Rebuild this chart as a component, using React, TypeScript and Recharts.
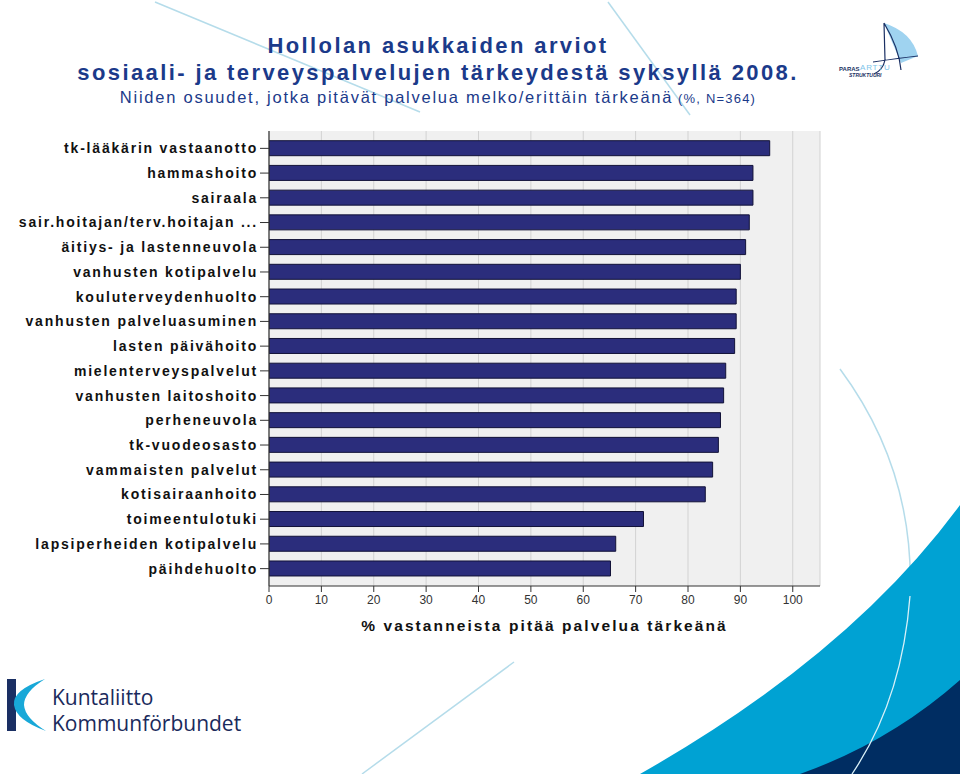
import React from "react";
import {
  BarChart,
  Bar,
  XAxis,
  YAxis,
  CartesianGrid,
  Label,
} from "recharts";

const categories = [
  "tk-lääkärin vastaanotto",
  "hammashoito",
  "sairaala",
  "sair.hoitajan/terv.hoitajan ...",
  "äitiys- ja lastenneuvola",
  "vanhusten kotipalvelu",
  "kouluterveydenhuolto",
  "vanhusten palveluasuminen",
  "lasten päivähoito",
  "mielenterveyspalvelut",
  "vanhusten laitoshoito",
  "perheneuvola",
  "tk-vuodeosasto",
  "vammaisten palvelut",
  "kotisairaanhoito",
  "toimeentulotuki",
  "lapsiperheiden kotipalvelu",
  "päihdehuolto",
];

const values = [
  95.6, 92.4, 92.4, 91.7, 91.0, 90.0, 89.2, 89.2, 88.9, 87.2, 86.8, 86.2,
  85.8, 84.7, 83.3, 71.5, 66.2, 65.2,
];

const xTicks = [0, 10, 20, 30, 40, 50, 60, 70, 80, 90, 100];

const titleLine1 = "Hollolan asukkaiden arviot";
const titleLine2 = "sosiaali- ja terveyspalvelujen tärkeydestä syksyllä 2008.";
const subtitleMain = "Niiden osuudet, jotka pitävät palvelua melko/erittäin tärkeänä";
const subtitleSmall = " (%, N=364)";
const xAxisTitle = "% vastanneista pitää palvelua tärkeänä";

const data = categories.map((name, i) => ({ name, value: values[i] }));

const FONT = "'Liberation Sans', Arial, sans-serif";

function Decorations() {
  return (
    <svg
      width={960}
      height={774}
      style={{ position: "absolute", left: 0, top: 0 }}
    >
      {/* light lines at top */}
      <line x1={155} y1={2} x2={420} y2={112} stroke="#b5dcea" strokeWidth={1.5} />
      <line x1={608} y1={2} x2={690} y2={115} stroke="#b5dcea" strokeWidth={1.5} />
      {/* right side curve */}
      <path d="M840,369 Q915,470 910,596" fill="none" stroke="#b5dcea" strokeWidth={1.5} />
      {/* bottom centre line */}
      <line x1={514} y1={662} x2={362} y2={774} stroke="#b5dcea" strokeWidth={1.5} />
      {/* bottom right shapes */}
      <path d="M640,774 Q850,655 960,505 L960,774 Z" fill="#00a2d3" />
      <path d="M800,774 Q890,742 960,680 L960,774 Z" fill="#002d62" />
      <path d="M910,596 Q902,700 852,774" fill="none" stroke="#d8f0f8" strokeWidth={1.3} />
      {/* Kuntaliitto logo */}
      <rect x={7} y={679} width={9} height={52} fill="#1a2f63" />
      <path
        d="M45,679 Q12,690 14,705 Q16,720 46,731 Q25,718 24,705 Q24,692 45,679 Z"
        fill="#18a8d8"
      />
      <text x={52} y={705} fontFamily="'Open Sans', sans-serif" fontSize={21} fill="#1a2a5c" letterSpacing={0}>
        Kuntaliitto
      </text>
      <text x={52} y={731} fontFamily="'Open Sans', sans-serif" fontSize={21} fill="#1a2a5c" letterSpacing={0}>
        Kommunförbundet
      </text>
      {/* PARAS ARTTU logo */}
      <path d="M884,23 Q912,32 918,56 L901,63 Z" fill="#9fd3f0" />
      <path d="M884,23 L885,60 Q883,70 874,74 M884,23 Q899,48 901,70 M873,62 Q900,58 918,56"
        fill="none" stroke="#1a2f63" strokeWidth={1.2} />
      <text x={839} y={71} fontFamily={FONT} fontSize={6} fontWeight="bold" fill="#1a2f63">
        PARAS
      </text>
      <text x={860} y={70} fontFamily={FONT} fontSize={8} fill="#7cc4ea" letterSpacing={0.8}>
        ARTTU
      </text>
      <text x={849} y={77} fontFamily={FONT} fontSize={5} fontWeight="bold" fontStyle="italic" fill="#1a2f63">
        STRUKTUURI
      </text>
    </svg>
  );
}

export default function App() {
  return (
    <div
      style={{
        position: "absolute",
        left: 0,
        top: 0,
        width: 960,
        height: 774,
        background: "#ffffff",
        overflow: "hidden",
        fontFamily: FONT,
      }}
    >
      <Decorations />
      <div
        style={{
          position: "absolute",
          left: 0,
          width: 876,
          top: 32,
          textAlign: "center",
          color: "#1b3a8a",
          fontWeight: "bold",
          fontSize: 22,
          letterSpacing: 2.4,
          lineHeight: "27px",
        }}
      >
        <div>{titleLine1}</div>
        <div>{titleLine2}</div>
      </div>
      <div
        style={{
          position: "absolute",
          left: 0,
          width: 876,
          top: 86,
          textAlign: "center",
          color: "#1b3a8a",
          fontSize: 16.5,
          letterSpacing: 1.75,
          lineHeight: "22px",
        }}
      >
        {subtitleMain}
        <span style={{ fontSize: 13, letterSpacing: 1.2 }}>{subtitleSmall}</span>
      </div>
      <div style={{ position: "absolute", left: 0, top: 0 }}>
        <BarChart
          width={960}
          height={774}
          data={data}
          layout="vertical"
          margin={{ top: 131, right: 140, left: 9, bottom: 138 }}
          barCategoryGap="19%"
        >
          <CartesianGrid
            horizontal={false}
            vertical={true}
            stroke="#d2d2d2"
            fill="#f0f0f0"
            fillOpacity={1}
          />
          <XAxis
            type="number"
            domain={[0, 105.2]}
            ticks={xTicks}
            allowDataOverflow
            height={50}
            tickSize={6}
            tickMargin={3}
            axisLine={{ stroke: "#333333", strokeWidth: 1.2 }}
            tickLine={{ stroke: "#333333" }}
            tick={{ fontSize: 12, fill: "#333333", fontFamily: FONT }}
          >
            <Label
              value={xAxisTitle}
              position="insideBottom"
              offset={5}
              style={{
                fontSize: 15.5,
                fontWeight: "bold",
                fill: "#111111",
                fontFamily: FONT,
                letterSpacing: 2.1,
              }}
            />
          </XAxis>
          <XAxis
            xAxisId="top"
            orientation="top"
            type="number"
            domain={[0, 105.2]}
            height={0}
            tick={false}
            tickLine={false}
            axisLine={{ stroke: "#333333", strokeWidth: 1.2 }}
          />
          <YAxis
            type="category"
            dataKey="name"
            width={260}
            padding={{ top: 5, bottom: 5 }}
            tickSize={9}
            tickMargin={2}
            interval={0}
            axisLine={{ stroke: "#333333", strokeWidth: 1.2 }}
            tickLine={{ stroke: "#333333" }}
            tick={{
              fontSize: 14,
              fontWeight: "bold",
              fill: "#111111",
              fontFamily: FONT,
              letterSpacing: 1.8,
            }}
          />
          <YAxis
            yAxisId="right"
            orientation="right"
            type="category"
            dataKey="name"
            width={0}
            tick={false}
            tickLine={false}
            axisLine={{ stroke: "#333333", strokeWidth: 1.2 }}
          />
          <Bar
            dataKey="value"
            fill="#2b2d7c"
            stroke="#121238"
            strokeWidth={1}
            isAnimationActive={false}
          />
        </BarChart>
      </div>
    </div>
  );
}
